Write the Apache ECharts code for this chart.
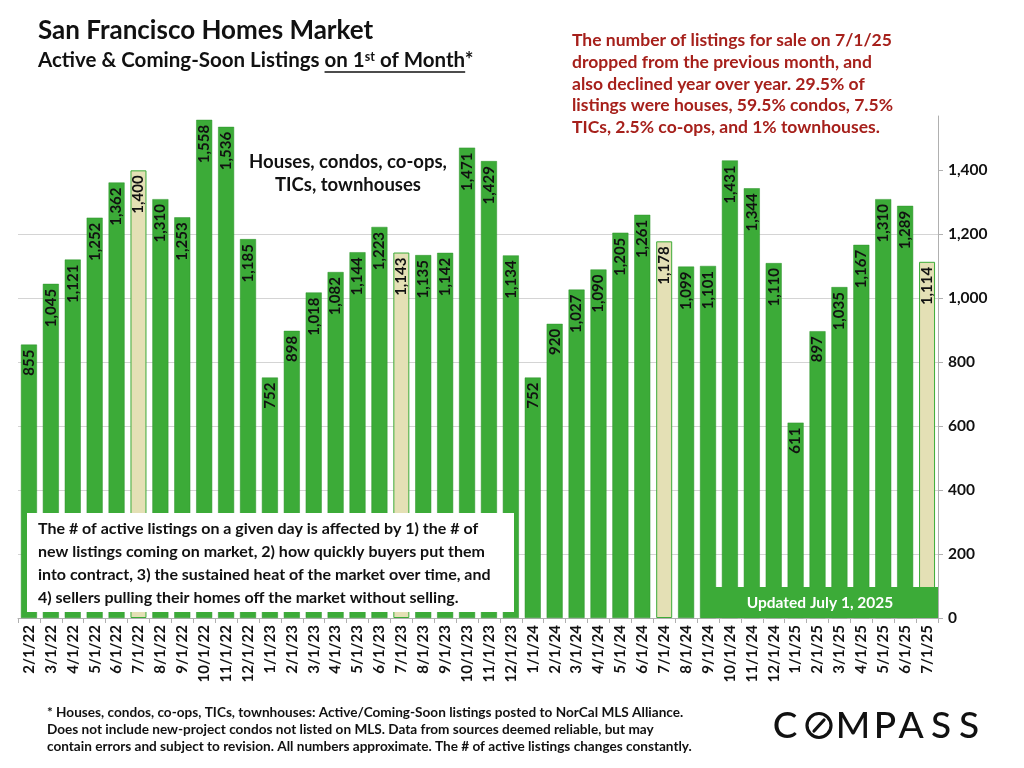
<!DOCTYPE html>
<html>
<head>
<meta charset="utf-8">
<script src="https://cdn.jsdelivr.net/npm/echarts@6/dist/echarts.min.js"></script>
<style>
html,body{margin:0;padding:0;background:#fff;}
#chart{width:1024px;height:768px;}
</style>
</head>
<body>
<div id="chart"></div>
<script>
const months = ['2/1/22','3/1/22','4/1/22','5/1/22','6/1/22','7/1/22','8/1/22','9/1/22','10/1/22','11/1/22','12/1/22',
'1/1/23','2/1/23','3/1/23','4/1/23','5/1/23','6/1/23','7/1/23','8/1/23','9/1/23','10/1/23','11/1/23','12/1/23',
'1/1/24','2/1/24','3/1/24','4/1/24','5/1/24','6/1/24','7/1/24','8/1/24','9/1/24','10/1/24','11/1/24','12/1/24',
'1/1/25','2/1/25','3/1/25','4/1/25','5/1/25','6/1/25','7/1/25'];
const listings = [855,1045,1121,1252,1362,1400,1310,1253,1558,1536,1185,
752,898,1018,1082,1144,1223,1143,1135,1142,1471,1429,1134,
752,920,1027,1090,1205,1261,1178,1099,1101,1431,1344,1110,
611,897,1035,1167,1310,1289,1114];
const highlightMonths = ['7/1/22','7/1/23','7/1/24','7/1/25'];
const yTicks = [0,200,400,600,800,1000,1200,1400];

const FONT = 'Lato, "Open Sans", sans-serif';
const GREEN = '#3cab38';
const GREEN_EDGE = '#2d922b';
const BEIGE = '#e4e0b5';

// measure text widths for underline placement
const ctx = document.createElement('canvas').getContext('2d');
function tw(str, size) { ctx.font = 'bold ' + size + 'px ' + FONT; return ctx.measureText(str).width; }
const SUB_SIZE = 20.5, SUP_SIZE = 12.5;
const subPre = 'Active & Coming-Soon Listings ';
const ulStart = 38 + tw(subPre, SUB_SIZE);
const ulEnd = ulStart + tw('on 1', SUB_SIZE) + tw('st', SUP_SIZE) + tw(' of Month', SUB_SIZE);

const barData = listings.map((v, i) => {
  if (highlightMonths.includes(months[i])) {
    return { value: v, itemStyle: { color: BEIGE, borderColor: GREEN, borderWidth: 1 } };
  }
  return v;
});

const chart = echarts.init(document.getElementById('chart'));
chart.setOption({
  animation: false,
  backgroundColor: '#fff',
  textStyle: { fontFamily: FONT },
  grid: { left: 18, right: 86, top: 116, bottom: 150, containLabel: false },
  xAxis: {
    type: 'category',
    data: months,
    axisLine: { lineStyle: { color: '#b0b0b0', width: 1 } },
    axisTick: { show: true, interval: 0, length: 5, lineStyle: { color: '#b0b0b0' } },
    axisLabel: { interval: 0, rotate: 90, fontFamily: FONT, fontWeight: 'bold', fontSize: 15, color: '#111', margin: 7 }
  },
  yAxis: {
    type: 'value',
    position: 'right',
    min: 0, max: 1570, interval: 200,
    axisLine: { show: true, lineStyle: { color: '#b0b0b0' } },
    axisTick: { show: true, length: 5, lineStyle: { color: '#b0b0b0' }, customValues: yTicks },
    axisLabel: {
      fontFamily: FONT, fontWeight: 'bold', fontSize: 15.5, color: '#111', margin: 10,
      customValues: yTicks,
      formatter: v => (v % 200 === 0 ? v.toLocaleString('en-US') : '')
    },
    splitLine: { show: true, showMaxLine: false, lineStyle: { color: '#d4d4d4', width: 1 } }
  },
  series: [{
    type: 'bar',
    data: barData,
    barWidth: 16,
    itemStyle: { color: GREEN, borderColor: GREEN_EDGE, borderWidth: 0.5 },
    label: {
      show: true,
      position: 'insideTop',
      rotate: 90,
      align: 'right',
      verticalAlign: 'middle',
      distance: 5,
      fontFamily: FONT, fontWeight: 'bold', fontSize: 15, color: '#111',
      formatter: p => p.value.toLocaleString('en-US')
    }
  }],
  graphic: [
    { type: 'text', left: 38, top: 18, z: 100,
      style: { text: 'San Francisco Homes Market', fontFamily: FONT, fontWeight: 'bold', fontSize: 26, fill: '#111' } },
    { type: 'text', left: 38, top: 50, z: 100,
      style: { text: subPre + 'on 1{sup|st} of Month*', fontFamily: FONT, fontWeight: 'bold', fontSize: SUB_SIZE, fill: '#111',
        rich: { sup: { fontSize: SUP_SIZE, fontFamily: FONT, fontWeight: 'bold', fill: '#111', verticalAlign: 'top', padding: [0,0,7,0] } } } },
    { type: 'line', z: 100, shape: { x1: ulStart, y1: 72, x2: ulEnd, y2: 72 }, style: { stroke: '#111', lineWidth: 1.3 } },
    { type: 'text', x: 348, y: 174, z: 100,
      style: { text: 'Houses, condos, co-ops,\nTICs, townhouses', align: 'center', verticalAlign: 'middle', lineHeight: 23,
        fontFamily: FONT, fontWeight: 'bold', fontSize: 18.5, fill: '#111' } },
    { type: 'text', left: 572, top: 30, z: 100,
      style: { text: 'The number of listings for sale on 7/1/25\ndropped from the previous month, and\nalso declined year over year. 29.5% of\nlistings were houses, 59.5% condos, 7.5%\nTICs, 2.5% co-ops, and 1% townhouses.',
        lineHeight: 21.6, fontFamily: FONT, fontWeight: 'bold', fontSize: 17.5, fill: '#a6201b' } },
    { type: 'rect', z: 100, shape: { x: 27, y: 513, width: 487, height: 99 }, style: { fill: '#fff' } },
    { type: 'text', left: 38, top: 517, z: 101,
      style: { text: 'The # of active listings on a given day is affected by 1) the # of\nnew listings coming on market, 2) how quickly buyers put them\ninto contract, 3) the sustained heat of the market over time, and\n4) sellers pulling their homes off the market without selling.',
        lineHeight: 23, fontFamily: FONT, fontWeight: 'bold', fontSize: 16, fill: '#111' } },
    { type: 'rect', z: 100, shape: { x: 701, y: 587, width: 237, height: 31 }, style: { fill: GREEN } },
    { type: 'text', x: 820, y: 603, z: 101,
      style: { text: 'Updated July 1, 2025', align: 'center', verticalAlign: 'middle', fontFamily: FONT, fontWeight: 'bold', fontSize: 15.5, fill: '#fff' } },
    { type: 'text', left: 47, top: 704, z: 100,
      style: { text: '* Houses, condos, co-ops, TICs, townhouses: Active/Coming-Soon listings posted to NorCal MLS Alliance.\nDoes not include new-project condos not listed on MLS. Data from sources deemed reliable, but may\ncontain errors and subject to revision. All numbers approximate. The # of active listings changes constantly.',
        lineHeight: 17, fontFamily: FONT, fontWeight: 'bold', fontSize: 13.6, fill: '#111' } },
    // COMPASS logo
    { type: 'text', x: 785, y: 726, z: 100, style: { text: 'C', align: 'center', verticalAlign: 'middle', fontFamily: FONT, fontWeight: 500, fontSize: 37, fill: '#111' } },
    { type: 'circle', z: 100, shape: { cx: 819, cy: 725.5, r: 12 }, style: { fill: 'none', stroke: '#111', lineWidth: 3.2 } },
    { type: 'line', z: 100, shape: { x1: 814, y1: 731, x2: 824, y2: 720 }, style: { stroke: '#111', lineWidth: 3.2, lineCap: 'round' } },
    { type: 'text', x: 853, y: 726, z: 100, style: { text: 'M', align: 'center', verticalAlign: 'middle', fontFamily: FONT, fontWeight: 500, fontSize: 37, fill: '#111' } },
    { type: 'text', x: 885, y: 726, z: 100, style: { text: 'P', align: 'center', verticalAlign: 'middle', fontFamily: FONT, fontWeight: 500, fontSize: 37, fill: '#111' } },
    { type: 'text', x: 911, y: 726, z: 100, style: { text: 'A', align: 'center', verticalAlign: 'middle', fontFamily: FONT, fontWeight: 500, fontSize: 37, fill: '#111' } },
    { type: 'text', x: 941, y: 726, z: 100, style: { text: 'S', align: 'center', verticalAlign: 'middle', fontFamily: FONT, fontWeight: 500, fontSize: 37, fill: '#111' } },
    { type: 'text', x: 969, y: 726, z: 100, style: { text: 'S', align: 'center', verticalAlign: 'middle', fontFamily: FONT, fontWeight: 500, fontSize: 37, fill: '#111' } }
  ]
});
</script>
</body>
</html>
